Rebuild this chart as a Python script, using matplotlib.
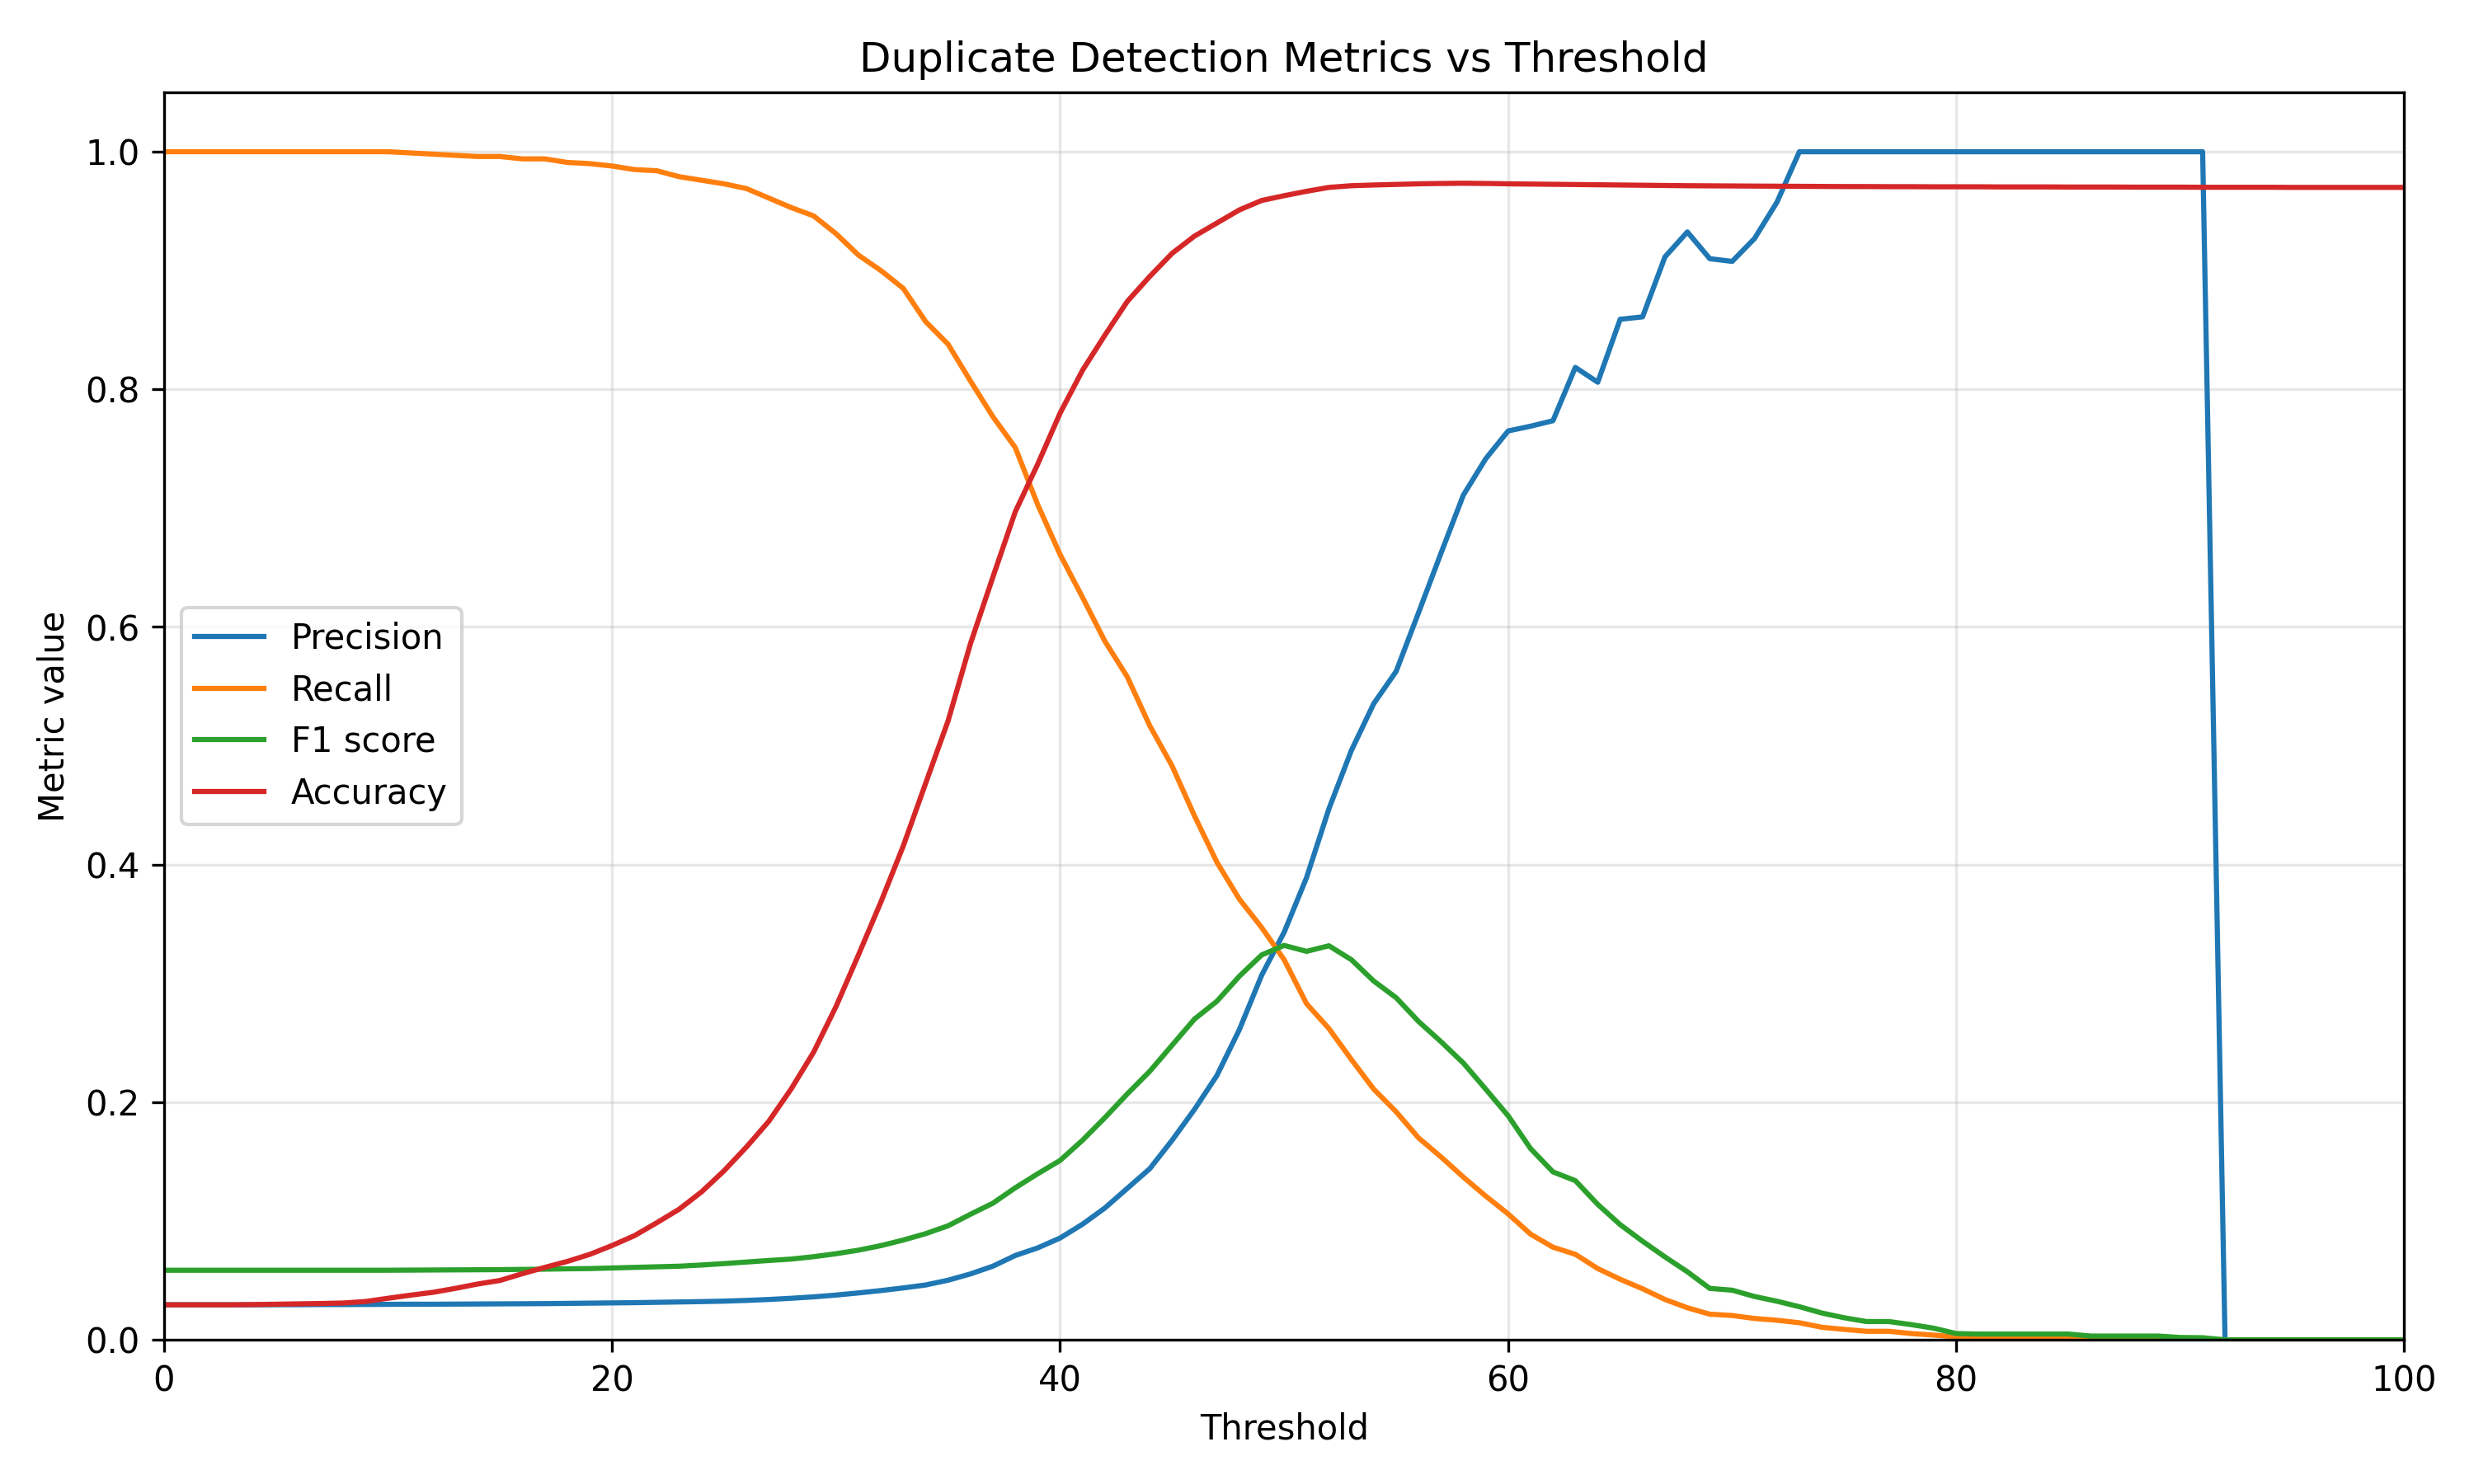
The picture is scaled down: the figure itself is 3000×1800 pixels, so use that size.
import numpy as np
import matplotlib
matplotlib.use("Agg")
import matplotlib.pyplot as plt

thresholds = np.arange(0, 101)

precision = [
    0.0295, 0.0295, 0.0295, 0.0295, 0.0295, 0.0296, 0.0296, 0.0297, 0.0297, 0.0298,
    0.0299, 0.0300, 0.0300, 0.0301, 0.0302, 0.0303, 0.0304, 0.0305, 0.0307, 0.0309,
    0.0311, 0.0313, 0.0316, 0.0319, 0.0322, 0.0326, 0.0332, 0.0340, 0.0350, 0.0362,
    0.0377, 0.0395, 0.0415, 0.0437, 0.0462, 0.0502, 0.0555, 0.0620, 0.0710, 0.0774,
    0.0857, 0.0973, 0.111, 0.1275, 0.144, 0.168, 0.194, 0.2225, 0.261, 0.307,
    0.343, 0.389, 0.447, 0.496, 0.5355, 0.5626, 0.612, 0.662, 0.711, 0.7416,
    0.765, 0.769, 0.7736, 0.8185, 0.806, 0.859, 0.861, 0.9115, 0.9325, 0.910,
    0.9077, 0.927, 0.9576, 1.0, 1.0, 1.0, 1.0, 1.0, 1.0, 1.0,
    1.0, 1.0, 1.0, 1.0, 1.0, 1.0, 1.0, 1.0, 1.0, 1.0,
    1.0, 1.0, 0.0, 0.0, 0.0, 0.0, 0.0, 0.0, 0.0, 0.0,
    0.0,
]

recall = [
    1.0, 1.0, 1.0, 1.0, 1.0, 1.0, 1.0, 1.0, 1.0, 1.0,
    1.0, 0.999, 0.998, 0.997, 0.996, 0.996, 0.994, 0.994, 0.991, 0.990,
    0.988, 0.985, 0.984, 0.979, 0.976, 0.973, 0.969, 0.961, 0.953, 0.946,
    0.931, 0.913, 0.900, 0.885, 0.857, 0.838, 0.807, 0.777, 0.751, 0.703,
    0.661, 0.625, 0.588, 0.558, 0.517, 0.483, 0.441, 0.402, 0.371, 0.347,
    0.320, 0.283, 0.262, 0.236, 0.211, 0.192, 0.170, 0.154, 0.137, 0.121,
    0.106, 0.089, 0.078, 0.072, 0.060, 0.051, 0.043, 0.034, 0.027, 0.0216,
    0.0205, 0.018, 0.0165, 0.0144, 0.0106, 0.0088, 0.0072, 0.0072, 0.0053, 0.004,
    0.0025, 0.0025, 0.0025, 0.0025, 0.0025, 0.0025, 0.0016, 0.0016, 0.0016, 0.0016,
    0.001, 0.001, 0.0, 0.0, 0.0, 0.0, 0.0, 0.0, 0.0, 0.0,
    0.0,
]

f1 = [
    0.0586, 0.0586, 0.0586, 0.0586, 0.0586, 0.0586, 0.0586, 0.0586, 0.0586, 0.0586,
    0.0586, 0.0587, 0.0588, 0.0589, 0.0590, 0.0591, 0.0593, 0.0595, 0.0598, 0.0600,
    0.0605, 0.0610, 0.0615, 0.0620, 0.0630, 0.0642, 0.0655, 0.0668, 0.0680, 0.0700,
    0.0725, 0.0755, 0.0793, 0.0840, 0.0894, 0.0960, 0.1057, 0.115, 0.128, 0.1398,
    0.151, 0.168, 0.187, 0.207, 0.226, 0.248, 0.270, 0.285, 0.306, 0.324,
    0.332, 0.327, 0.3317, 0.320, 0.302, 0.288, 0.268, 0.251, 0.233, 0.211,
    0.1886, 0.161, 0.1414, 0.134, 0.114, 0.097, 0.083, 0.0698, 0.0573, 0.0433,
    0.0418, 0.0365, 0.0325, 0.0279, 0.0226, 0.0186, 0.0154, 0.0154, 0.0128, 0.0098,
    0.0053, 0.0049, 0.0049, 0.0049, 0.0049, 0.0049, 0.0032, 0.0032, 0.0032, 0.0032,
    0.0020, 0.0018, 0.0, 0.0, 0.0, 0.0, 0.0, 0.0, 0.0, 0.0,
    0.0,
]

accuracy = [
    0.0295, 0.0295, 0.0295, 0.0295, 0.0297, 0.0300, 0.0303, 0.0306, 0.0310, 0.0323,
    0.0350, 0.0376, 0.0400, 0.0433, 0.0470, 0.0500, 0.0557, 0.0610, 0.0660, 0.0719,
    0.0794, 0.0877, 0.0986, 0.110, 0.1246, 0.1423, 0.1623, 0.184, 0.2113, 0.2422,
    0.2806, 0.324, 0.3685, 0.4157, 0.4685, 0.521, 0.586, 0.642, 0.697, 0.737,
    0.780, 0.816, 0.8456, 0.874, 0.895, 0.9145, 0.929, 0.940, 0.951, 0.959,
    0.963, 0.9667, 0.970, 0.9714, 0.972, 0.9725, 0.973, 0.9733, 0.9735, 0.9733,
    0.9730, 0.9728, 0.9726, 0.9724, 0.9722, 0.9720, 0.9718, 0.9716, 0.9714, 0.9713,
    0.9712, 0.9711, 0.9710, 0.9709, 0.9708, 0.9707, 0.9707, 0.9706, 0.9706, 0.9705,
    0.9705, 0.9705, 0.9704, 0.9704, 0.9704, 0.9703, 0.9703, 0.9703, 0.9702, 0.9702,
    0.9702, 0.9701, 0.9701, 0.9701, 0.9701, 0.9700, 0.9700, 0.9700, 0.9700, 0.9700,
    0.9700,
]

fig, ax = plt.subplots(figsize=(10, 6))
ax.plot(thresholds, precision, label="Precision")
ax.plot(thresholds, recall, label="Recall")
ax.plot(thresholds, f1, label="F1 score")
ax.plot(thresholds, accuracy, label="Accuracy")
ax.set_xlim(0, 100)
ax.set_ylim(0, 1.05)
ax.set_xlabel("Threshold")
ax.set_ylabel("Metric value")
ax.set_title("Duplicate Detection Metrics vs Threshold")
ax.grid(True, alpha=0.3)
ax.legend(loc="center left")
fig.tight_layout()
fig.savefig("out.png", dpi=300)
